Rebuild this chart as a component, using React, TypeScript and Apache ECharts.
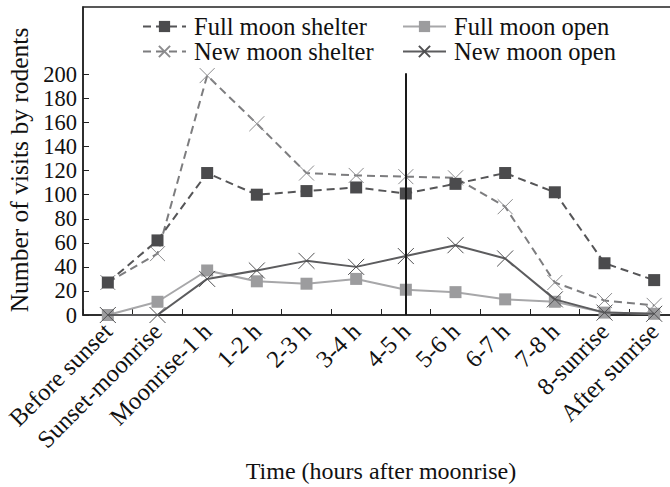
import React, { useEffect, useRef } from "react";
import * as echarts from "echarts";

const categories = [
  "Before sunset",
  "Sunset-moonrise",
  "Moonrise-1 h",
  "1-2 h",
  "2-3 h",
  "3-4 h",
  "4-5 h",
  "5-6 h",
  "6-7 h",
  "7-8 h",
  "8-sunrise",
  "After sunrise",
];

const fullMoonShelter = [27, 62, 118, 100, 103, 106, 101, 109, 118, 102, 43, 29];
const fullMoonOpen = [0, 11, 37, 28, 26, 30, 21, 19, 13, 11, 2, 1];
const newMoonShelter = [27, 51, 199, 159, 118, 116, 115, 114, 90, 27, 12, 8];
const newMoonOpen = [0, 0, 30, 37, 45, 40, 49, 58, 47, 13, 2, 1];

const yTickValues = [0, 20, 40, 60, 80, 100, 120, 140, 160, 180, 200];
const markerCategory = "4-5 h";
const markerTop = 201;

const FONT = "Liberation Serif";
const CROSS = "path://M0,0L20,20M20,0L0,20";

export default function App() {
  const ref = useRef<HTMLDivElement>(null);

  useEffect(() => {
    if (!ref.current) return;
    const chart = echarts.init(ref.current, undefined, { renderer: "svg" });
    const textBase = { fontFamily: FONT, color: "#111" };

    chart.setOption({
      animation: false,
      backgroundColor: "#fff",
      grid: {
        left: 83,
        right: -9,
        top: 7,
        bottom: 172,
        containLabel: false,
        outerBoundsMode: "none",
        show: true,
        borderColor: "#222",
        borderWidth: 1.5,
      },
      legend: [
        {
          orient: "vertical",
          left: 142,
          top: 14,
          padding: 0,
          itemWidth: 43,
          itemHeight: 14,
          itemGap: 0,
          data: ["Full moon shelter", "New moon shelter"],
          textStyle: { ...textBase, fontSize: 24.5, padding: [0, 0, 0, 3] },
        },
        {
          orient: "vertical",
          left: 402,
          top: 14,
          padding: 0,
          itemWidth: 43,
          itemHeight: 14,
          itemGap: 0,
          data: ["Full moon open", "New moon open"],
          textStyle: { ...textBase, fontSize: 24.5, padding: [0, 0, 0, 3] },
        },
      ],
      xAxis: {
        type: "category",
        data: categories,
        boundaryGap: true,
        name: "Time (hours after moonrise)",
        nameLocation: "middle",
        nameGap: 142,
        nameTextStyle: { ...textBase, fontSize: 24 },
        axisLine: { lineStyle: { color: "#222", width: 1.5 } },
        axisTick: { show: true, inside: true, length: 6, lineStyle: { color: "#222" } },
        axisLabel: {
          ...textBase,
          fontSize: 24.5,
          rotate: 45,
          interval: 0,
          margin: 12,
        },
        splitLine: { show: false },
      },
      yAxis: {
        type: "value",
        min: 0,
        max: 256,
        interval: 20,
        name: "Number of visits by rodents",
        nameLocation: "middle",
        nameGap: 50,
        nameTextStyle: { ...textBase, fontSize: 25.5, padding: [0, 18, 0, 0] },
        axisLine: { show: true, lineStyle: { color: "#222", width: 1.5 } },
        axisTick: {
          show: true,
          inside: true,
          length: 6,
          customValues: yTickValues,
          lineStyle: { color: "#222" },
        },
        axisLabel: {
          ...textBase,
          fontSize: 22.5,
          margin: 6,
          customValues: yTickValues,
        },
        splitLine: { show: false },
      },
      series: [
        {
          name: "Full moon shelter",
          type: "line",
          data: fullMoonShelter,
          symbol: "rect",
          symbolSize: 12,
          lineStyle: { color: "#555557", width: 2, type: [8, 5] },
          itemStyle: { color: "#4b4b4d", borderWidth: 0 },
          z: 3,
        },
        {
          name: "New moon shelter",
          type: "line",
          data: newMoonShelter,
          symbol: CROSS,
          symbolSize: 15,
          lineStyle: { color: "#7d7d7f", width: 2, type: [8, 5] },
          itemStyle: { color: "#8c8c8e", borderColor: "#8c8c8e", borderWidth: 1 },
          z: 2,
        },
        {
          name: "Full moon open",
          type: "line",
          data: fullMoonOpen,
          symbol: "rect",
          symbolSize: 12,
          lineStyle: { color: "#a7a7a9", width: 2 },
          itemStyle: { color: "#9c9c9e", borderWidth: 0 },
          z: 2,
        },
        {
          name: "New moon open",
          type: "line",
          data: newMoonOpen,
          symbol: CROSS,
          symbolSize: 16,
          lineStyle: { color: "#5c5c5e", width: 2 },
          itemStyle: { color: "#505052", borderColor: "#505052", borderWidth: 1 },
          z: 3,
          markLine: {
            silent: true,
            symbol: "none",
            label: { show: false },
            lineStyle: { color: "#1a1a1a", width: 2, type: "solid" },
            data: [
              [
                { coord: [markerCategory, 0] },
                { coord: [markerCategory, markerTop] },
              ],
            ],
          },
        },
      ],
    });

    return () => chart.dispose();
  }, []);

  return (
    <div
      ref={ref}
      style={{ position: "fixed", left: 0, top: 0, width: 670, height: 487 }}
    />
  );
}
